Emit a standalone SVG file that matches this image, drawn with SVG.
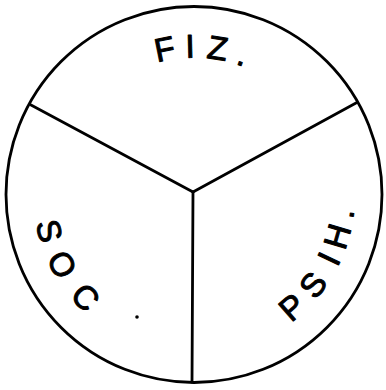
<svg xmlns="http://www.w3.org/2000/svg" width="386" height="390" viewBox="0 0 386 390">
  <style>
    .ln { fill: none; stroke: #000; stroke-width: 2.8; stroke-linecap: round; }
    .lbl { font-family: "Liberation Sans", Arial, sans-serif; font-size: 33px; fill: #000; stroke: #000; stroke-width: 1; stroke-linejoin: round; }
  </style>
  <defs>
    <path id="arcTop" d="M57,194.5 A137,137 0 0 1 331,194.5"/>
    <path id="arcLeft" d="M194,33.7 A160.8,160.8 0 0 0 194,355.3"/>
    <path id="arcRight" d="M194,355.3 A160.8,160.8 0 0 0 194,33.7"/>
  </defs>
  <rect width="386" height="390" fill="#fff"/>
  <g id="outline">
    <circle class="ln" cx="194" cy="194.5" r="188"/>
  </g>
  <g id="connectors">
    <line class="ln" x1="193" y1="192" x2="31" y2="105"/>
    <line class="ln" x1="193" y1="192" x2="356" y2="103"/>
    <line class="ln" x1="193" y1="192" x2="192" y2="382"/>
  </g>
  <g id="fiz">
    <text class="lbl"><textPath href="#arcTop" startOffset="177.6"><tspan dx="0 9 11.1 9.7">FIZ.</tspan></textPath></text>
  </g>
  <g id="soc">
    <text class="lbl"><textPath href="#arcLeft" startOffset="281.2"><tspan dx="0 14.85 18.75">SOC</tspan></textPath></text>
    <circle cx="137" cy="317" r="1.8" fill="#000"/>
  </g>
  <g id="psih">
    <text class="lbl"><textPath href="#arcRight" startOffset="104.1"><tspan dx="0 11.1 17.2 9.3 8.5">PSIH.</tspan></textPath></text>
  </g>
</svg>
